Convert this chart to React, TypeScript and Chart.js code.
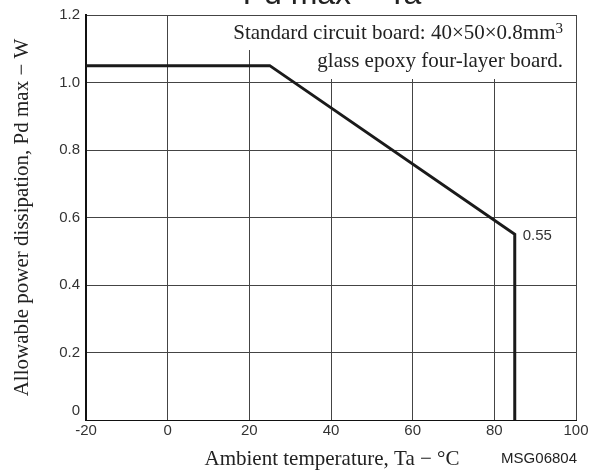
import React, { useEffect, useRef } from "react";
import { Chart, registerables } from "chart.js";

Chart.register(...registerables);

const curveX = [-20, 25, 85, 85];
const curveY = [1.05, 1.05, 0.55, 0];
const xTicksMin = -20;
const xTicksMax = 100;
const yTicksMin = 0;
const yTicksMax = 1.2;
const titleText = "Pd max \u2212 Ta";
const xTitle = "Ambient temperature, Ta \u2212 \u00B0C";
const yTitle = "Allowable power dissipation, Pd max \u2212 W";
const noteLine1 = "Standard circuit board: 40\u00D750\u00D70.8mm";
const noteSup = "3";
const noteLine2 = "glass epoxy four-layer board.";
const endLabel = "0.55";
const codeLabel = "MSG06804";

const SANS = "'Liberation Sans', Arial, sans-serif";
const SERIF = "'Liberation Serif', 'Times New Roman', serif";

const textPlugin = {
  id: "extraText",
  beforeDatasetsDraw(chart: any) {
    const { ctx, chartArea } = chart;
    ctx.save();
    ctx.font = `21px ${SERIF}`;
    const w1 = ctx.measureText(noteLine1).width;
    ctx.font = `15px ${SERIF}`;
    const ws = ctx.measureText(noteSup).width;
    ctx.font = `21px ${SERIF}`;
    const w2 = ctx.measureText(noteLine2).width;
    const rightX = chartArea.right - 13;
    ctx.fillStyle = "#ffffff";
    const l1 = rightX - w1 - ws - 3;
    ctx.fillRect(l1, chartArea.top + 1, chartArea.right - 1 - l1, 34);
    const l2 = rightX - w2 - 3;
    ctx.fillRect(l2, chartArea.top + 35, chartArea.right - 1 - l2, 29);
    ctx.restore();
  },
  afterDraw(chart: any) {
    const { ctx, chartArea, scales } = chart;
    ctx.save();
    ctx.fillStyle = "#222";
    // title
    ctx.font = `32px ${SANS}`;
    ctx.textAlign = "center";
    ctx.textBaseline = "alphabetic";
    ctx.fillText(titleText, (chartArea.left + chartArea.right) / 2 + 1, 4);
    // note
    const rightX = chartArea.right - 13;
    ctx.font = `15px ${SERIF}`;
    const ws = ctx.measureText(noteSup).width;
    ctx.textAlign = "right";
    ctx.fillText(noteSup, rightX, chartArea.top + 18);
    ctx.font = `21px ${SERIF}`;
    ctx.fillText(noteLine1, rightX - ws, chartArea.top + 24);
    ctx.fillText(noteLine2, rightX, chartArea.top + 52);
    // x title
    ctx.textAlign = "center";
    ctx.fillText(xTitle, (chartArea.left + chartArea.right) / 2 + 1, 465);
    // code label
    ctx.font = `15px ${SANS}`;
    ctx.textAlign = "right";
    ctx.fillText(codeLabel, chartArea.right + 1, 463);
    // y title
    ctx.save();
    ctx.font = `21px ${SERIF}`;
    ctx.translate(28, (chartArea.top + chartArea.bottom) / 2);
    ctx.rotate(-Math.PI / 2);
    ctx.textAlign = "center";
    ctx.textBaseline = "alphabetic";
    ctx.fillText(yTitle, 0, 0);
    ctx.restore();
    // y zero label raised
    ctx.font = `15px ${SANS}`;
    ctx.fillStyle = "#333";
    ctx.textAlign = "right";
    ctx.textBaseline = "middle";
    ctx.fillText("0", chartArea.left - 6, scales.y.getPixelForValue(0) - 9);
    // end label
    const px = scales.x.getPixelForValue(curveX[2]);
    const py = scales.y.getPixelForValue(curveY[2]);
    ctx.textAlign = "left";
    ctx.fillText(endLabel, px + 8, py + 1);
    ctx.restore();
  },
};

export default function App() {
  const ref = useRef<HTMLCanvasElement | null>(null);
  useEffect(() => {
    if (!ref.current) return;
    const chart = new Chart(ref.current, {
      type: "line",
      data: {
        datasets: [
          {
            data: curveX.map((x, i) => ({ x, y: curveY[i] })),
            borderColor: "#1a1a1a",
            borderWidth: 3,
            pointRadius: 0,
            fill: false,
            tension: 0,
          },
        ],
      },
      options: {
        animation: false,
        responsive: false,
        devicePixelRatio: 1,
        layout: { padding: { left: 0, right: 28, top: 14, bottom: 0 } },
        plugins: { legend: { display: false }, tooltip: { enabled: false }, title: { display: false } },
        scales: {
          x: {
            type: "linear",
            min: xTicksMin,
            max: xTicksMax,
            afterFit: (s: any) => {
              s.height = 50;
            },
            ticks: {
              stepSize: 20,
              font: { family: SANS, size: 15 },
              color: "#333",
              padding: 2,
              maxRotation: 0,
            },
            grid: { color: "#444", lineWidth: 1, drawTicks: false },
            border: { color: "#111", width: 1 },
          },
          y: {
            type: "linear",
            min: yTicksMin,
            max: yTicksMax,
            afterFit: (s: any) => {
              s.width = 86;
            },
            ticks: {
              stepSize: 0.2,
              font: { family: SANS, size: 15 },
              color: "#333",
              padding: 6,
              callback: (v: any) => (Math.abs(v) < 1e-9 ? "" : Number(v).toFixed(1)),
            },
            grid: { color: "#444", lineWidth: 1, drawTicks: false },
            border: { color: "#111", width: 2 },
          },
        },
      },
      plugins: [textPlugin],
    });
    return () => chart.destroy();
  }, []);
  return (
    <div style={{ position: "fixed", left: 0, top: 0, width: 604, height: 470, background: "#fff" }}>
      <canvas ref={ref} width={604} height={470} style={{ width: 604, height: 470 }} />
    </div>
  );
}
